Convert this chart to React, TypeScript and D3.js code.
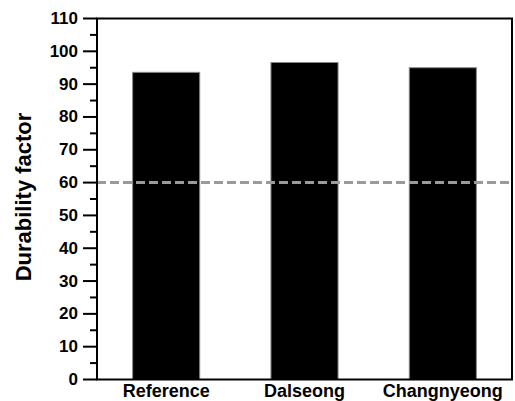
import React from "react";
import * as d3 from "d3";

const categories = ["Reference", "Dalseong", "Changnyeong"];
const values = [93.6, 96.6, 95.0];
const yTicks = [0, 10, 20, 30, 40, 50, 60, 70, 80, 90, 100, 110];
const minorTicks = [5, 15, 25, 35, 45, 55, 65, 75, 85, 95, 105];
const thresholdValue = [60];
const yTitle = "Durability factor";

const W = 515;
const H = 401;
const M = { left: 97, right: 3, top: 18.5, bottom: 21.5 };

export default function App() {
  const x = d3
    .scaleBand<string>()
    .domain(categories)
    .range([M.left, W - M.right])
    .paddingInner(0.515)
    .paddingOuter(0.2575);
  const y = d3.scaleLinear().domain([0, 110]).range([H - M.bottom, M.top]);
  const font = "'Liberation Sans', Arial, sans-serif";
  const x0 = M.left;
  const x1 = W - M.right;
  const y0 = y(0);
  const yTop = y(110);

  return (
    <svg
      width={W}
      height={H}
      style={{ position: "fixed", left: 0, top: 0, background: "#fff" }}
      fontFamily={font}
      fontWeight="bold"
    >
      <rect x={0} y={0} width={W} height={H} fill="#fff" />
      {categories.map((c, i) => (
        <rect
          key={c}
          x={x(c)!}
          y={y(values[i])}
          width={x.bandwidth()}
          height={y0 - y(values[i])}
          fill="#000"
          stroke="#888"
          strokeWidth={1}
        />
      ))}
      {thresholdValue.map((v) => (
        <line
          key={v}
          x1={x0}
          x2={x1}
          y1={y(v)}
          y2={y(v)}
          stroke="#9a9a9a"
          strokeWidth={3}
          strokeDasharray="9,4"
        />
      ))}
      <rect
        x={x0}
        y={yTop}
        width={x1 - x0}
        height={y0 - yTop}
        fill="none"
        stroke="#000"
        strokeWidth={2}
      />
      {yTicks.map((t) => (
        <g key={t}>
          <line x1={x0 - 14} x2={x0} y1={y(t)} y2={y(t)} stroke="#000" strokeWidth={2} />
          <text
            x={x0 - 19}
            y={y(t)}
            textAnchor="end"
            dominantBaseline="central"
            fontSize={17}
            fill="#000"
          >
            {t}
          </text>
        </g>
      ))}
      {minorTicks.map((t) => (
        <line key={t} x1={x0 - 7} x2={x0} y1={y(t)} y2={y(t)} stroke="#000" strokeWidth={2} />
      ))}
      {categories.map((c) => (
        <text
          key={c}
          x={x(c)! + x.bandwidth() / 2}
          y={397}
          textAnchor="middle"
          fontSize={18}
          fill="#000"
        >
          {c}
        </text>
      ))}
      <text
        transform={`translate(31,197) rotate(-90)`}
        textAnchor="middle"
        fontSize={22}
        fill="#000"
      >
        {yTitle}
      </text>
    </svg>
  );
}
